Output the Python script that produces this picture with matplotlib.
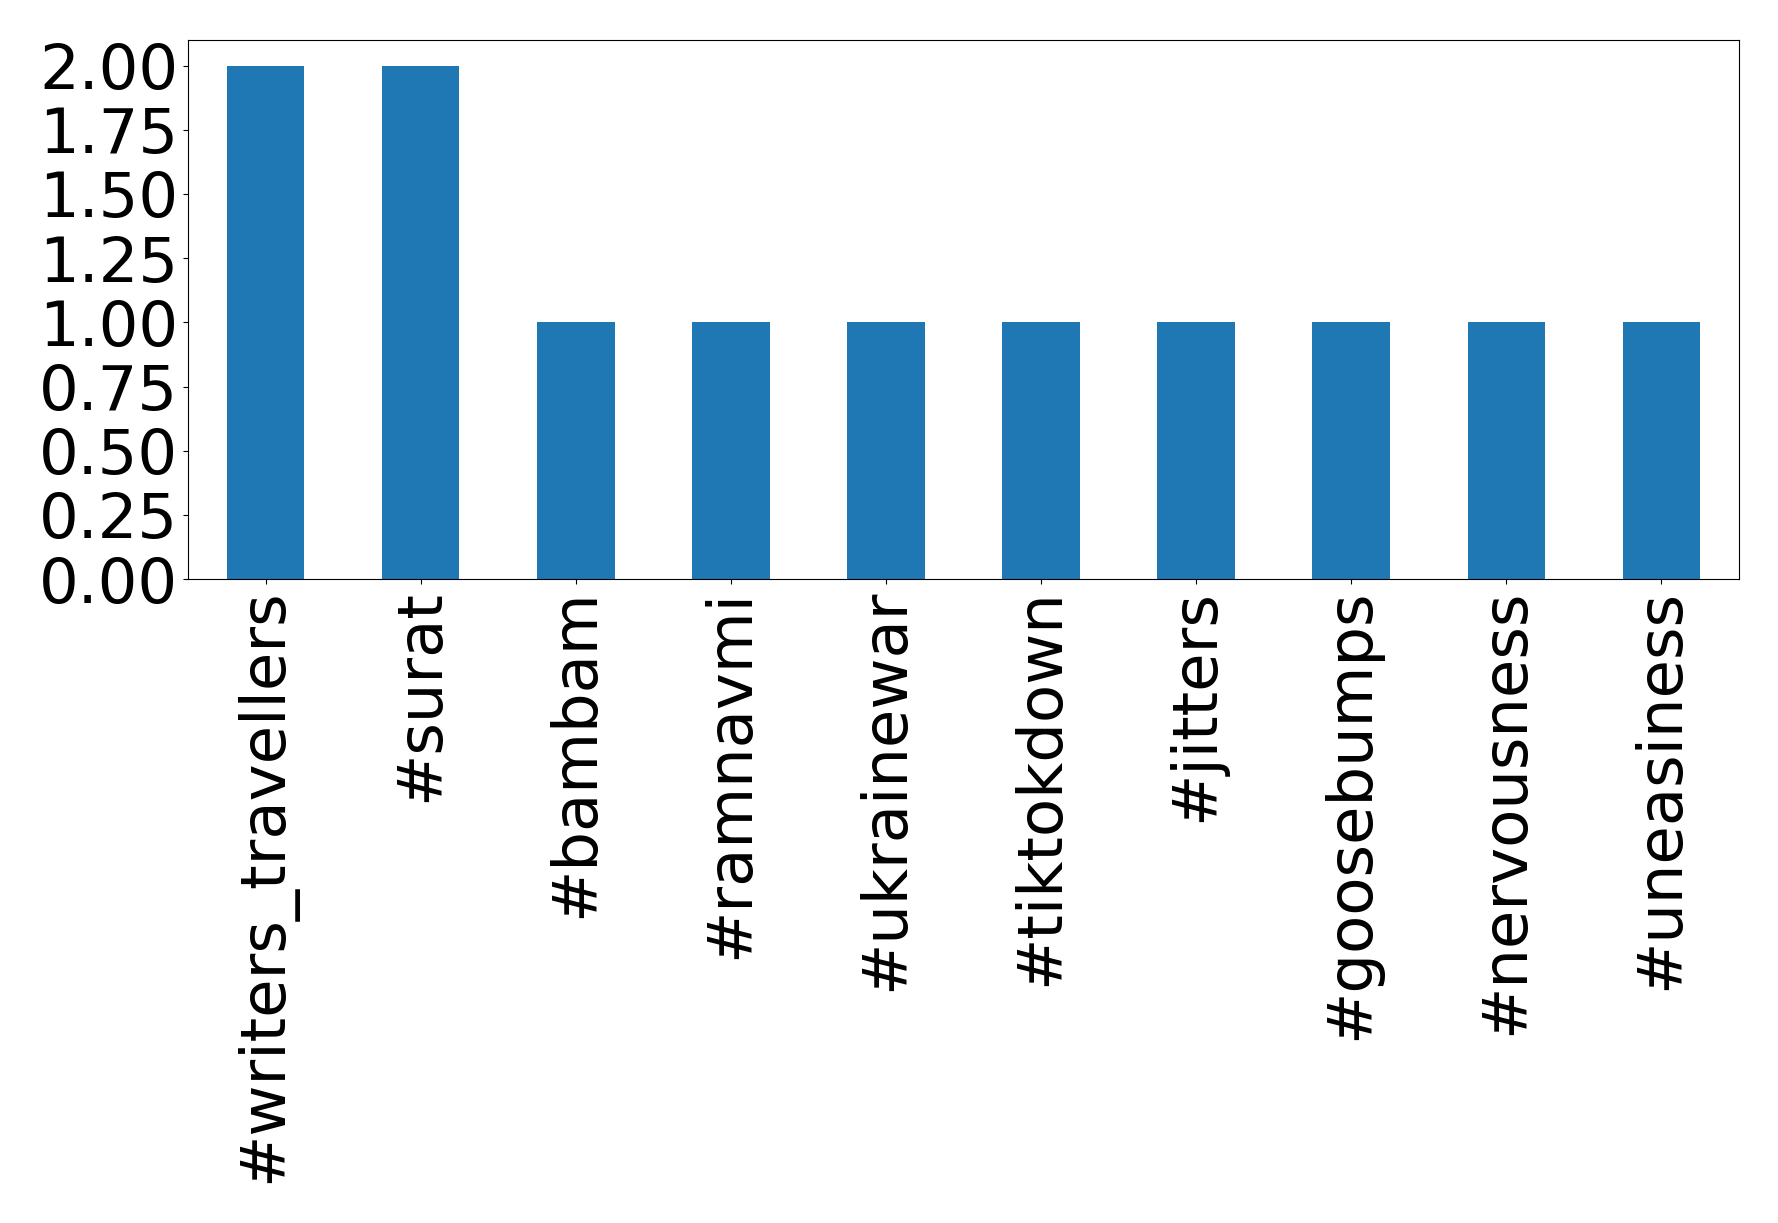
import matplotlib
matplotlib.use("Agg")
import matplotlib.pyplot as plt
import numpy as np

# hashtag counts
tags = ['#writers_travellers', '#surat', '#bambam', '#ramnavmi', '#ukrainewar',
        '#tiktokdown', '#jitters', '#goosebumps', '#nervousness', '#uneasiness']
counts = [2, 2, 1, 1, 1, 1, 1, 1, 1, 1]

fig = plt.figure(figsize=(17.78, 12.23), dpi=100)
ax = fig.add_axes([188 / 1778, 1 - 579 / 1223, (1739 - 188) / 1778, (579 - 40) / 1223])

x = np.arange(len(tags))
ax.bar(x, counts, width=0.5, color='#1f77b4')
ax.set_xlim(-0.5, len(tags) - 0.5)
ax.set_ylim(0, 2.1)
ax.set_yticks(np.arange(0, 2.01, 0.25))
ax.set_yticklabels(['%.2f' % v for v in np.arange(0, 2.01, 0.25)])
ax.set_xticks(x)
ax.set_xticklabels(tags, rotation=90)
ax.tick_params(labelsize=45)

fig.savefig('out.png', dpi=100)
